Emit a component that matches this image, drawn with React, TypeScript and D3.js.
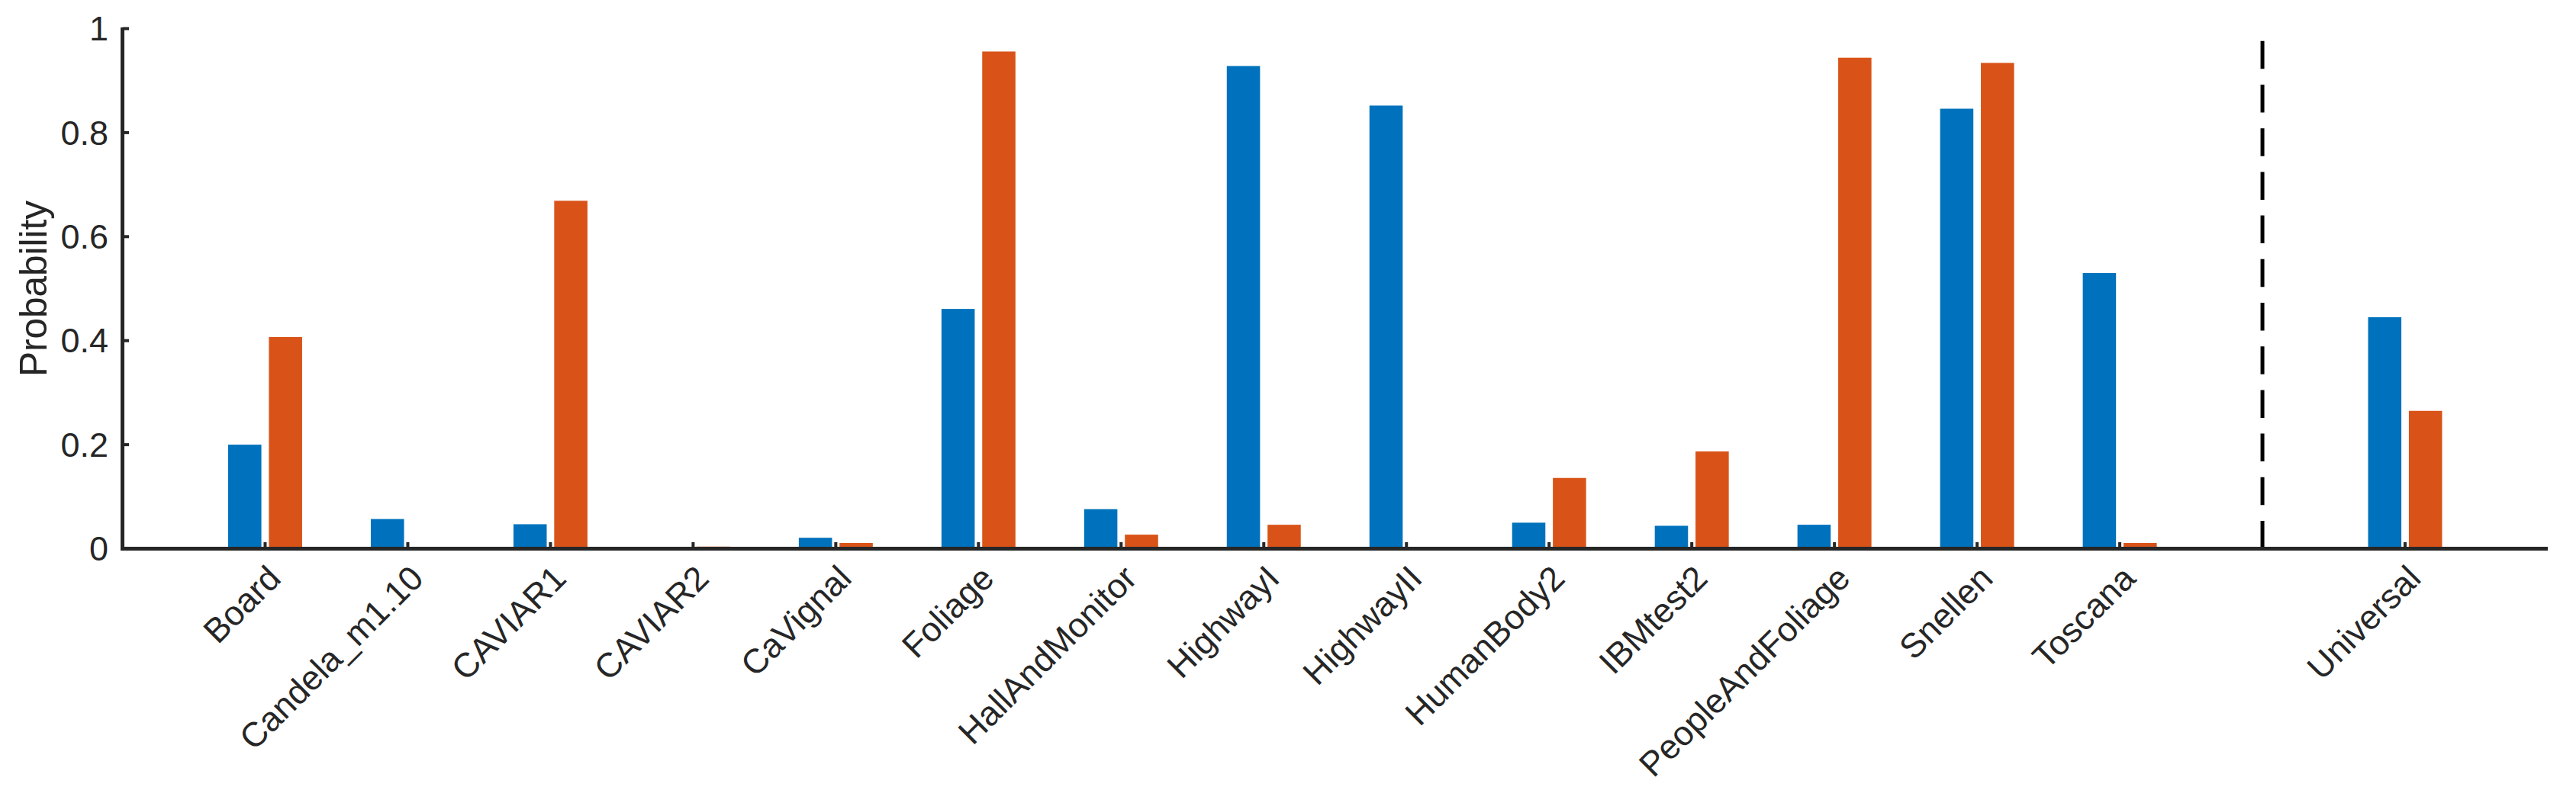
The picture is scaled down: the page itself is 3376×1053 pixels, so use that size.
import React from "react";
import * as d3 from "d3";

const categories = [
  "Board", "Candela_m1.10", "CAVIAR1", "CAVIAR2", "CaVignal", "Foliage",
  "HallAndMonitor", "HighwayI", "HighwayII", "HumanBody2", "IBMtest2",
  "PeopleAndFoliage", "Snellen", "Toscana",
];
const blueValues = [0.2, 0.057, 0.047, 0.0, 0.021, 0.461, 0.076, 0.928, 0.852, 0.05, 0.044, 0.046, 0.846, 0.53];
const orangeValues = [0.407, 0.0, 0.669, 0.004, 0.011, 0.956, 0.027, 0.046, 0.0, 0.136, 0.187, 0.944, 0.934, 0.011];
const universalCategory = "Universal";
const universalBlue = 0.445;
const universalOrange = 0.265;
const yTicks = [0, 0.2, 0.4, 0.6, 0.8, 1];
const yTickLabels = ["0", "0.2", "0.4", "0.6", "0.8", "1"];
const yLabel = "Probability";

const W = 3376;
const H = 1053;
const BLUE = "#0072BD";
const ORANGE = "#D95319";
const AXIS = "#262626";
const FONT = "'Liberation Sans', Arial, Helvetica, sans-serif";

export default function App() {
  const nCat = categories.length;
  const separatorPos = nCat + 1;
  const universalPos = nCat + 2;
  const x = d3.scaleLinear().domain([0, universalPos + 1]).range([160.5, 3339]);
  const y = d3.scaleLinear().domain([0, 1]).range([719.5, 37.5]);
  const barW = x(0.233) - x(0);
  const off = 0.1428;

  const groups = categories.map((c, i) => ({ name: c, pos: i + 1, b: blueValues[i], o: orangeValues[i] }));
  groups.push({ name: universalCategory, pos: universalPos, b: universalBlue, o: universalOrange });

  const tickLen = 8.5;

  return (
    <svg width={W} height={H} style={{ position: "absolute", left: 0, top: 0, background: "#fff" }} fontFamily={FONT}>
      <rect x={0} y={0} width={W} height={H} fill="#fff" />
      {groups.map((g) => (
        <g key={g.name}>
          {g.b > 0 && (
            <rect x={x(g.pos - off) - barW / 2} y={y(g.b)} width={barW} height={y(0) - y(g.b)} fill={BLUE} />
          )}
          {g.o > 0 && (
            <rect x={x(g.pos + off) - barW / 2} y={y(g.o)} width={barW} height={y(0) - y(g.o)} fill={ORANGE} />
          )}
        </g>
      ))}
      {/* dashed separator */}
      <line
        x1={x(separatorPos)} x2={x(separatorPos)} y1={y(0)} y2={y(1)}
        stroke="#000" strokeWidth={5} strokeDasharray="36.5,20.7"
      />
      {/* axes */}
      <line x1={x(0)} x2={x(0)} y1={y(0) + 2.5} y2={y(1) - 1.5} stroke={AXIS} strokeWidth={5} />
      <line x1={x(0) - 2.5} x2={x(universalPos + 1)} y1={y(0)} y2={y(0)} stroke={AXIS} strokeWidth={5} />
      {yTicks.map((t, i) => (
        <g key={"yt" + i}>
          <line x1={x(0)} x2={x(0) + tickLen} y1={y(t)} y2={y(t)} stroke={AXIS} strokeWidth={4} />
          <text x={142} y={y(t)} dy="0.35em" textAnchor="end" fontSize={45} fill={AXIS}>
            {yTickLabels[i]}
          </text>
        </g>
      ))}
      {groups.map((g) => (
        <g key={"xt" + g.name}>
          <line x1={x(g.pos)} x2={x(g.pos)} y1={y(0)} y2={y(0) - tickLen} stroke={AXIS} strokeWidth={4} />
          <text
            transform={`translate(${x(g.pos) + 23},761) rotate(-45)`}
            textAnchor="end" fontSize={45} fill={AXIS}
          >
            {g.name}
          </text>
        </g>
      ))}
      <text
        transform={`translate(61,${(y(0) + y(1)) / 2}) rotate(-90)`}
        textAnchor="middle" fontSize={49.5} fill={AXIS}
      >
        {yLabel}
      </text>
    </svg>
  );
}
